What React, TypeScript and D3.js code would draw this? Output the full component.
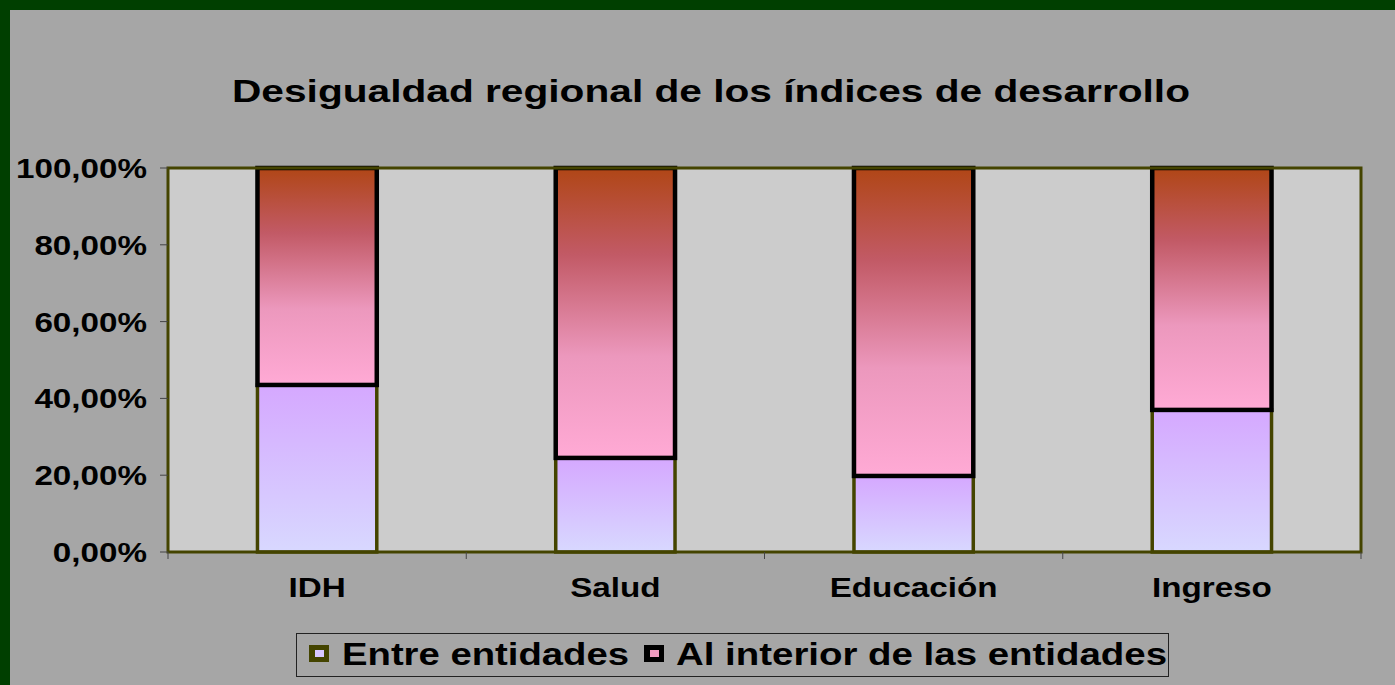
import React, { useEffect, useRef } from "react";
import * as d3 from "d3";

const categories = ["IDH", "Salud", "Educación", "Ingreso"];
const entreEntidades = [0.435, 0.245, 0.198, 0.37];
const alInterior = [0.565, 0.755, 0.802, 0.63];
const yTicks = [0, 0.2, 0.4, 0.6, 0.8, 1];
const seriesNames = ["Entre entidades", "Al interior de las entidades"];

const App = () => {
  const svgRef = useRef(null);
  const width = 1395;
  const height = 685;

  useEffect(() => {
    const svg = d3.select(svgRef.current);
    svg.selectAll("*").remove();
    const font = "'Liberation Sans', Arial, sans-serif";
    const stretch = 1.23; // text in the original is wider than Arial

    // background + green frame
    svg.append("rect").attr("width", width).attr("height", height).attr("fill", "#003f00");
    svg.append("rect").attr("x", 10).attr("y", 10).attr("width", width - 10).attr("height", height - 10).attr("fill", "#a6a6a6");

    const defs = svg.append("defs");
    const g1 = defs.append("linearGradient").attr("id", "gradLow").attr("x1", 0).attr("y1", 0).attr("x2", 0).attr("y2", 1);
    g1.append("stop").attr("offset", "0%").attr("stop-color", "#d5a8ff");
    g1.append("stop").attr("offset", "100%").attr("stop-color", "#d8d8ff");
    const g2 = defs.append("linearGradient").attr("id", "gradHigh").attr("x1", 0).attr("y1", 0).attr("x2", 0).attr("y2", 1);
    g2.append("stop").attr("offset", "0%").attr("stop-color", "#b04616");
    g2.append("stop").attr("offset", "30%").attr("stop-color", "#c25a66");
    g2.append("stop").attr("offset", "65%").attr("stop-color", "#ec98bd");
    g2.append("stop").attr("offset", "100%").attr("stop-color", "#ffaad5");

    const left = 168, right = 1361, top = 168, bottom = 552;

    const x = d3.scaleBand().domain(categories).range([left, right]).paddingInner(0.6).paddingOuter(0.3);
    const xb = d3.scaleBand().domain(categories).range([left, right]);
    const y = d3.scaleLinear().domain([0, 1]).range([bottom, top]);

    svg.append("rect").attr("x", left).attr("y", top).attr("width", right - left).attr("height", bottom - top)
      .attr("fill", "#cccccc");

    // bars
    svg.selectAll(".low").data(categories).join("rect").attr("class", "low")
      .attr("x", d => x(d))
      .attr("width", x.bandwidth())
      .attr("y", (d, i) => y(entreEntidades[i]))
      .attr("height", (d, i) => y(0) - y(entreEntidades[i]))
      .attr("fill", "url(#gradLow)")
      .attr("stroke", "#444400")
      .attr("stroke-width", 3.5);

    svg.selectAll(".high").data(categories).join("rect").attr("class", "high")
      .attr("x", d => x(d))
      .attr("width", x.bandwidth())
      .attr("y", (d, i) => y(entreEntidades[i] + alInterior[i]))
      .attr("height", (d, i) => y(entreEntidades[i]) - y(entreEntidades[i] + alInterior[i]))
      .attr("fill", "url(#gradHigh)")
      .attr("stroke", "#000")
      .attr("stroke-width", 4.5);

    svg.append("rect").attr("x", left).attr("y", top).attr("width", right - left).attr("height", bottom - top)
      .attr("fill", "none").attr("stroke", "#444400").attr("stroke-width", 3);

    // y axis ticks
    const yAxis = svg.append("g");
    yAxis.selectAll("line").data(yTicks).join("line")
      .attr("x1", left - 8).attr("x2", left).attr("y1", d => y(d)).attr("y2", d => y(d))
      .attr("stroke", "#444").attr("stroke-width", 1);
    yAxis.selectAll("text").data(yTicks).join("text")
      .attr("transform", d => `translate(147,${y(d) + 10}) scale(${stretch},1)`)
      .attr("text-anchor", "end")
      .style("font-family", font).style("font-weight", "bold").style("font-size", "27px")
      .text(d => d3.format(".2f")(d * 100).replace(".", ",") + "%");

    // x axis ticks
    const xEdges = categories.map(c => xb(c)).concat([right]);
    svg.selectAll(".xtick").data(xEdges).join("line").attr("class", "xtick")
      .attr("x1", d => d).attr("x2", d => d).attr("y1", bottom).attr("y2", bottom + 7)
      .attr("stroke", "#444").attr("stroke-width", 1);
    svg.selectAll(".xlabel").data(categories).join("text").attr("class", "xlabel")
      .attr("transform", d => `translate(${xb(d) + xb.bandwidth() / 2},597) scale(${stretch},1)`)
      .attr("text-anchor", "middle")
      .style("font-family", font).style("font-weight", "bold").style("font-size", "27px")
      .text(d => d);

    // title
    svg.append("text").attr("x", 232).attr("y", 102)
      .attr("textLength", 958).attr("lengthAdjust", "spacingAndGlyphs")
      .style("font-family", font).style("font-weight", "bold").style("font-size", "31px")
      .text("Desigualdad regional de los índices de desarrollo");

    // legend
    const lg = svg.append("g");
    lg.append("rect").attr("x", 296.5).attr("y", 633.5).attr("width", 872).attr("height", 43)
      .attr("fill", "none").attr("stroke", "#222").attr("stroke-width", 1);
    const legendItems = [
      { name: seriesNames[0], sx: 309, tx: 342, len: 287, fill: "#d8c8ff", stroke: "#444400" },
      { name: seriesNames[1], sx: 644, tx: 676, len: 491, fill: "#f09cc0", stroke: "#000" },
    ];
    legendItems.forEach(it => {
      lg.append("rect").attr("x", it.sx).attr("y", 645).attr("width", 20).attr("height", 17)
        .attr("fill", it.stroke);
      lg.append("rect").attr("x", it.sx + 6).attr("y", 650).attr("width", 9).attr("height", 7)
        .attr("fill", it.fill);
      lg.append("text").attr("x", it.tx).attr("y", 665)
        .attr("textLength", it.len).attr("lengthAdjust", "spacingAndGlyphs")
        .style("font-family", font).style("font-weight", "bold").style("font-size", "31px")
        .text(it.name);
    });
  }, []);

  return (
    <div style={{ position: "fixed", left: 0, top: 0 }}>
      <svg ref={svgRef} width={width} height={height} style={{ display: "block" }}></svg>
    </div>
  );
};

export default App;
